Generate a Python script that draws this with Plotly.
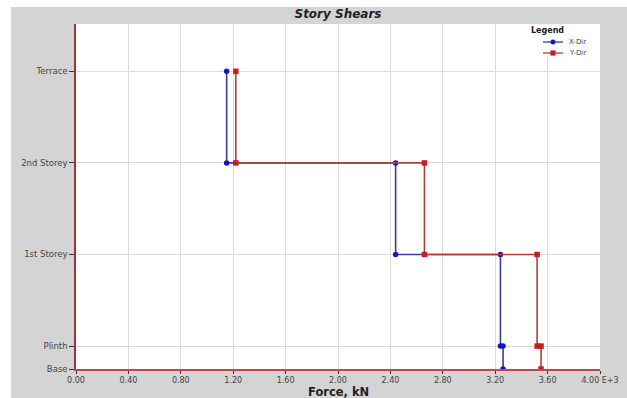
import plotly.graph_objects as go

# ---- data ----
story_names = ["Base", "Plinth", "1st Storey", "2nd Storey", "Terrace"]
story_elev = [0.0, 0.75, 3.75, 6.75, 9.75]          # storey levels (m)
# story shear (E+3 kN) for each storey, top to bottom: Terrace, 2nd, 1st, Plinth
x_dir_shear = [1.15, 2.44, 3.24, 3.26]
y_dir_shear = [1.22, 2.66, 3.52, 3.55]
x_ticks = [0.0, 0.4, 0.8, 1.2, 1.6, 2.0, 2.4, 2.8, 3.2, 3.6, 4.0]
x_ticklabels = ["0.00", "0.40", "0.80", "1.20", "1.60", "2.00", "2.40",
                "2.80", "3.20", "3.60", "4.00 E+3"]
series_names = ["X-Dir", "Y-Dir"]
line_colors = ["#3c3c9c", "#b04040"]
marker_colors = ["#1414c8", "#c81e1e"]
marker_symbols = ["circle", "square"]


def step_points(shears):
    tops = story_elev[::-1][:-1]      # Terrace, 2nd, 1st, Plinth
    bots = story_elev[::-1][1:]       # 2nd, 1st, Plinth, Base
    xs, ys = [], []
    for v, t, b in zip(shears, tops, bots):
        xs += [v, v]
        ys += [t, b]
    return xs, ys


W, H = 627, 398
PL, PR, PT, PB = 76, 600, 24, 369
L, R, T, B = PL, W - PR, PT, H - PB
pw, ph = W - L - R, H - T - B


def px(x):   # pixel x -> paper x
    return (x - L) / pw


def py(y):   # pixel y -> paper y
    return (H - B - y) / ph


FONT = "DejaVu Sans, Verdana, sans-serif"

fig = go.Figure()
for name, shears, lc, mc, ms in zip(series_names, [x_dir_shear, y_dir_shear],
                                    line_colors, marker_colors, marker_symbols):
    xs, ys = step_points(shears)
    fig.add_trace(go.Scatter(
        x=xs, y=ys, mode="lines+markers", name=name, showlegend=False,
        line=dict(color=lc, width=1.6),
        marker=dict(color=mc, size=5.5, symbol=ms),
    ))

shapes = [
    # white strips outside the grey frame (left and top)
    dict(type="rect", xref="paper", yref="paper",
         x0=px(-2), x1=px(11), y0=py(H + 2), y1=py(-2),
         fillcolor="white", line_width=0, layer="below"),
    dict(type="rect", xref="paper", yref="paper",
         x0=px(-2), x1=px(W + 2), y0=py(7), y1=py(-2),
         fillcolor="white", line_width=0, layer="below"),
    # legend background
    dict(type="rect", xref="paper", yref="paper",
         x0=px(526), x1=px(596), y0=py(57), y1=py(24.6),
         fillcolor="white", line_width=0, layer="above"),
]
annotations = [
    dict(text="<b>Legend</b>", xref="paper", yref="paper", x=px(547), y=py(31),
         xanchor="center", yanchor="middle", showarrow=False,
         font=dict(family=FONT, size=8, color="#222222")),
    dict(text="<b>Force, kN</b>", xref="paper", yref="paper", x=px(338), y=py(391.5),
         xanchor="center", yanchor="middle", showarrow=False,
         font=dict(family=FONT, size=11.5, color="#222222")),
]
leg_y = [42, 53]
for name, lc, mc, ms, yy in zip(series_names, line_colors, marker_colors,
                                marker_symbols, leg_y):
    shapes.append(dict(type="line", xref="paper", yref="paper",
                       x0=px(543), x1=px(563), y0=py(yy), y1=py(yy),
                       line=dict(color=lc, width=1.3), layer="above"))
    r = 2.3
    shapes.append(dict(type="circle" if ms == "circle" else "rect",
                       xref="paper", yref="paper",
                       x0=px(553 - r), x1=px(553 + r), y0=py(yy + r), y1=py(yy - r),
                       fillcolor=mc, line=dict(color=mc, width=0.5), layer="above"))
    annotations.append(dict(text=name, xref="paper", yref="paper", x=px(567), y=py(yy),
                            xanchor="left", yanchor="middle", showarrow=False,
                            font=dict(family=FONT, size=7, color="#444444")))

fig.update_layout(
    width=W, height=H,
    margin=dict(l=L, r=R, t=T, b=B, pad=0),
    paper_bgcolor="#d4d4d4",
    plot_bgcolor="white",
    font=dict(family=FONT, size=8.5, color="#444444"),
    title=dict(text="<b><i>Story Shears</i></b>", x=338 / W, xanchor="center",
               y=1 - 14 / H, yanchor="middle", yref="container",
               font=dict(size=12, color="#222222")),
    shapes=shapes,
    annotations=annotations,
    showlegend=False,
    xaxis=dict(
        range=[0, 4.0], tickmode="array", tickvals=x_ticks, ticktext=x_ticklabels,
        showgrid=True, gridcolor="#dcdcdc", gridwidth=1.2,
        showline=True, linecolor="#b84a4a", linewidth=1.5,
        ticks="outside", ticklen=3, tickcolor="#333333",
        zeroline=False, tickfont=dict(size=8), automargin=False,
    ),
    yaxis=dict(
        range=[0, 11.3], tickmode="array", tickvals=story_elev, ticktext=story_names,
        showgrid=True, gridcolor="#dcdcdc", gridwidth=1.2,
        showline=True, linecolor="#9c3434", linewidth=1.5,
        ticks="outside", ticklen=5, tickcolor="#333333",
        zeroline=False, tickfont=dict(size=8.5), automargin=False,
    ),
)

fig.write_html("out.html", config={"displayModeBar": False},
               post_script="document.body.style.margin='0';document.body.style.overflow='hidden';")
